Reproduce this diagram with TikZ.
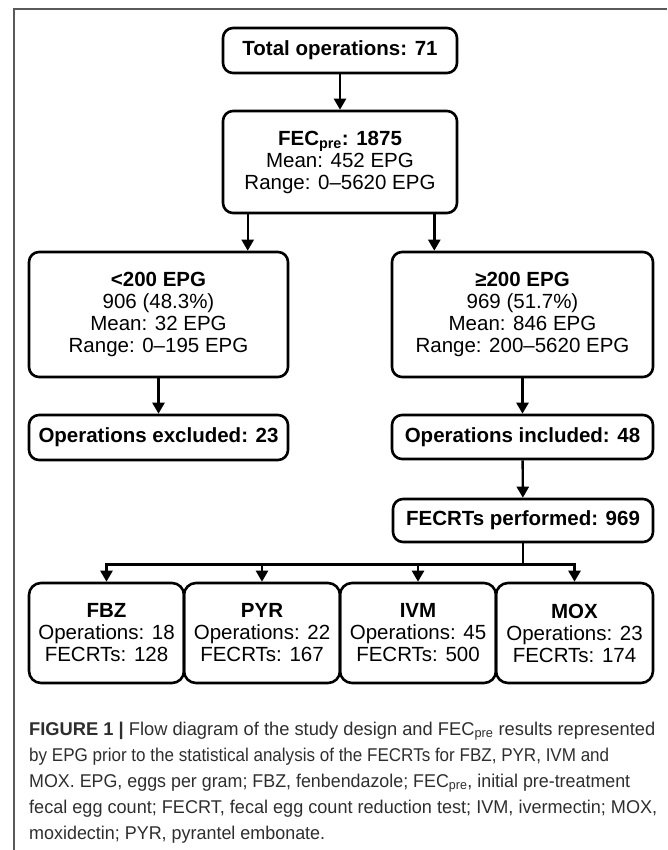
\documentclass[tikz,border=0pt]{standalone}
\usepackage{fontspec}
\setmainfont{Liberation Sans}
\usetikzlibrary{arrows.meta}
\begin{document}
\begin{tikzpicture}[x=1pt,y=-1pt,
  flowbox/.style={draw, line width=2.6pt, rounded corners=10pt, align=center, inner sep=0pt, font=\fontsize{20.5}{22}\selectfont},
  drugbox/.style={flowbox, rounded corners=12pt, minimum height=100pt},
  stemline/.style={line width=2.4pt},
  arrowline/.style={line width=2.4pt, -{Triangle[width=12pt,length=11pt]}},
  captext/.style={anchor=base west, inner sep=0pt, text=black!82, font=\fontsize{18.5}{26}\selectfont},
  frameline/.style={draw=black!65, line width=1.2pt}
  ]
\useasboundingbox (0,0) rectangle (667,850);
\draw[frameline] (667,9) -- (14,9) -- (14,850);

\node[flowbox, minimum width=234pt, minimum height=45pt] (total) at (340,50.5) {\textbf{Total operations: 71}};
\node[flowbox, minimum width=234pt, minimum height=102pt] (fec) at (340,162) {\textbf{FEC\textsubscript{pre}: 1875}\\Mean: 452 EPG\\Range: 0–5620 EPG};
\node[flowbox, minimum width=259pt, minimum height=125pt] (low) at (158.5,314.5) {\textbf{<200 EPG}\\906 (48.3\%)\\Mean: 32 EPG\\Range: 0–195 EPG};
\node[flowbox, minimum width=261pt, minimum height=125pt] (high) at (522.5,314.5) {\textbf{≥200 EPG}\\969 (51.7\%)\\Mean: 846 EPG\\Range: 200–5620 EPG};
\node[flowbox, minimum width=259pt, minimum height=45pt] (excl) at (158.5,437.5) {\textbf{Operations excluded: 23}};
\node[flowbox, minimum width=261pt, minimum height=44pt] (incl) at (522.5,437) {\textbf{Operations included: 48}};
\node[flowbox, minimum width=260pt, minimum height=43pt] (fecrt) at (523,520.5) {\textbf{FECRTs performed: 969}};

\node[drugbox, minimum width=155pt] (fbz) at (106.5,633) {\textbf{FBZ}\\Operations: 18\\FECRTs: 128};
\node[drugbox, minimum width=156pt] (pyr) at (262,633) {\textbf{PYR}\\Operations: 22\\FECRTs: 167};
\node[drugbox, minimum width=156pt] (ivm) at (418,633) {\textbf{IVM}\\Operations: 45\\FECRTs: 500};
\node[drugbox, minimum width=157pt] (mox) at (574.5,633) {\textbf{MOX}\\Operations: 23\\FECRTs: 174};

\draw[arrowline] (total) -- (fec);
\draw[arrowline] ([xshift=26pt]fec.south west) -- ([xshift=26pt]fec.south west |- low.north);
\draw[arrowline] ([xshift=-24pt]fec.south east) -- ([xshift=-24pt]fec.south east |- high.north);
\draw[arrowline] (low) -- (excl);
\draw[arrowline] (high) -- (incl);
\draw[arrowline] (incl) -- (fecrt);
\draw[stemline] (fecrt.south) -- ++(0,21) coordinate (split);
\foreach \n in {fbz,pyr,ivm,mox} \draw[arrowline] (split) -| (\n.north);

\node[captext] (c1) at (29,735) {\resizebox{626pt}{\height}{\textbf{FIGURE 1 |} Flow diagram of the study design and FEC\textsubscript{pre} results represented}};
\node[captext] (c2) at (29,761) {\resizebox{580pt}{\height}{by EPG prior to the statistical analysis of the FECRTs for FBZ, PYR, IVM and}};
\node[captext] (c3) at (29,787) {\resizebox{601pt}{\height}{MOX. EPG, eggs per gram; FBZ, fenbendazole; FEC\textsubscript{pre}, initial pre-treatment}};
\node[captext] (c4) at (29,813) {\resizebox{628pt}{\height}{fecal egg count; FECRT, fecal egg count reduction test; IVM, ivermectin; MOX,}};
\node[captext] (c5) at (29,839) {\resizebox{296pt}{\height}{moxidectin; PYR, pyrantel embonate.}};
\end{tikzpicture}
\end{document}
